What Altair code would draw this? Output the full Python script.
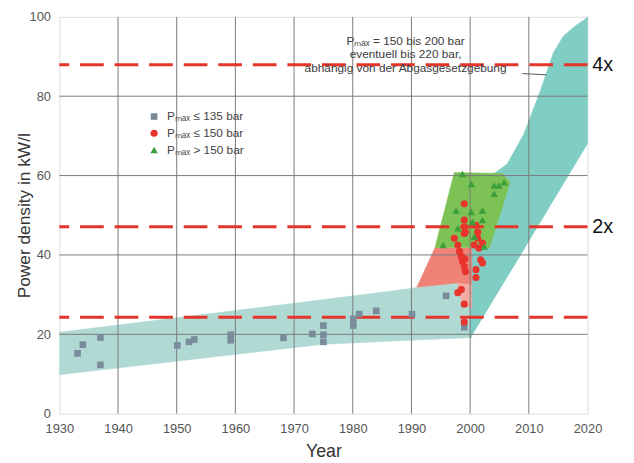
import altair as alt
import pandas as pd

FONT = "Liberation Sans"

# ---------------- data ----------------
X_TICKS = [1930, 1940, 1950, 1960, 1970, 1980, 1990, 2000, 2010, 2020]
Y_TICKS = [0, 20, 40, 60, 80, 100]
GRID_X = [1940, 1950, 1960, 1970, 1980, 1990, 2000, 2010]
GRID_Y = [20, 40, 60, 80]

# reference (dashed) lines and their labels
REF_LINES = [24.3, 47.1, 87.9]
REF_LABEL_Y = [87.9, 47.1]
REF_LABEL_TEXT = ["4x", "2x"]

# P_max <= 135 bar (squares)
sq_year = [1933.1, 1934.0, 1937.0, 1937.0, 1950.1, 1952.1, 1953.0, 1959.2, 1959.2,
           1968.2, 1973.1, 1975.0, 1975.0, 1975.0, 1980.1, 1980.1, 1981.1, 1984.0,
           1990.1, 1995.9, 1999.0]
sq_val = [15.2, 17.4, 19.2, 12.3, 17.2, 18.1, 18.7, 19.9, 18.5,
          19.1, 20.1, 22.2, 19.9, 18.1, 22.2, 23.9, 25.1, 25.9,
          25.1, 29.7, 21.8]

# P_max <= 150 bar (circles)
rc_year = [1999.0, 1999.0, 1999.0, 1999.2, 2001.0, 2001.3, 2001.3, 1997.3, 1997.9,
           1998.2, 1998.5, 1998.7, 1999.0, 2001.5, 2001.8, 2002.1, 2001.0, 2001.0,
           1998.5, 1997.9, 1999.0, 1999.0, 1999.1, 1999.2, 2000.7, 2002.1, 1999.0]
rc_val = [52.9, 48.8, 47.1, 45.8, 47.5, 45.8, 44.2, 44.2, 42.5,
          40.9, 39.6, 38.4, 37.1, 41.7, 38.8, 38.0, 36.3, 34.3,
          31.3, 30.5, 27.6, 23.1, 39.0, 35.8, 42.5, 43.0, 45.4]

# P_max > 150 bar (triangles)
gt_year = [1998.7, 2000.2, 2004.1, 2004.9, 2005.8, 2004.1, 1997.6, 2000.2, 2002.1,
           2002.1, 2000.4, 1997.9, 2000.7, 1995.4, 2002.4]
gt_val = [60.4, 57.9, 57.5, 57.5, 58.3, 55.4, 51.2, 50.8, 51.2,
          48.8, 48.3, 46.7, 44.6, 42.5, 42.1]

CATS = ["Pₘₐₓ ≤ 135 bar", "Pₘₐₓ ≤ 150 bar", "Pₘₐₓ > 150 bar"]
CAT_COLORS = ["#7a8b9b", "#e8342c", "#3c9f3c"]
CAT_SHAPES = ["square", "circle", "triangle-up"]
CAT_SIZES = [45, 58, 75]

# shaded regions (polygon vertices, year / value)
band_lo_x = [1930, 1960, 1987, 1991, 1997.8, 2000.3, 2000.3, 1975, 1930]
band_lo_y = [20.5, 26.0, 31.0, 31.8, 32.9, 27.2, 19.2, 17.5, 9.8]

steep_x = [2000.0, 2000.3, 2001.0, 2002.4, 2006.3, 2009.1, 2011.9, 2014.2, 2015.9,
           2018.0, 2019.5, 2020.0, 2020.0, 2014.2, 2007.4, 2000.0]
steep_y = [19.0, 42.0, 55.0, 58.7, 62.9, 70.3, 81.1, 91.0, 95.2,
           97.8, 99.3, 100.0, 68.0, 53.8, 37.1, 19.0]

red_x = [1990.9, 1994.0, 2000.3, 2000.3, 1997.8]
red_y = [31.8, 41.8, 41.8, 32.5, 32.9]

pink_x = [1997.8, 2000.3, 2000.3, 1998.6]
pink_y = [32.9, 32.5, 26.5, 27.8]

green_x = [1994.0, 1997.3, 2005.5, 2006.8, 2003.3]
green_y = [41.8, 60.8, 60.5, 58.3, 41.8]

NOTE_LINES = ["Pₘₐₓ = 150 bis 200 bar", "eventuell bis 220 bar,",
              "abhängig von der Abgasgesetzgebung"]
NOTE_X = [1989.0, 1989.0, 1989.0]
NOTE_Y = [94.0, 90.5, 87.0]
LEADER_X = [2008.9, 2013.0]
LEADER_Y = [85.7, 85.4]

# ---------------- chart ----------------
xs = alt.Scale(domain=[1930, 2020], nice=False, zero=False)
ys = alt.Scale(domain=[0, 100], nice=False, zero=False)
xaxis = alt.Axis(values=X_TICKS, format="d", grid=False, ticks=False, domain=False,
                 labelFlush=False, labelOverlap=False,
                 title="Year", labelFont=FONT, labelFontSize=13, labelColor="#555555",
                 labelPadding=9, titleFont=FONT, titleFontSize=18, titleColor="#333333",
                 titleFontWeight="normal", titleY=38, titleBaseline="middle")
yaxis = alt.Axis(values=Y_TICKS, grid=False, ticks=False, domain=False,
                 labelFlush=False, labelOverlap=False,
                 title="Power density in kW/l", labelFont=FONT, labelFontSize=13,
                 labelColor="#555555", labelPadding=9, titleFont=FONT, titleFontSize=17.5,
                 titleColor="#333333", titleFontWeight="normal", titleX=-35,
                 titleBaseline="middle")


def X(f):
    return alt.X(f, type="quantitative", scale=xs, axis=xaxis)


def Y(f):
    return alt.Y(f, type="quantitative", scale=ys, axis=yaxis)


def poly(xv, yv, color):
    df = pd.DataFrame({"x": xv, "y": yv, "i": list(range(len(xv)))})
    return alt.Chart(df).mark_line(fill=color, stroke=color, strokeWidth=0.5).encode(
        x=X("x"), y=Y("y"), order=alt.Order("i:Q"))


layers = [
    poly(band_lo_x, band_lo_y, "#b0d9d4"),
    poly(steep_x, steep_y, "#80cdc3"),
    poly(red_x, red_y, "#ef8378"),
    poly(pink_x, pink_y, "#f3aaa2"),
    poly(green_x, green_y, "#7cc254"),
]

gx = pd.DataFrame({"x": GRID_X})
gy = pd.DataFrame({"y": GRID_Y})
layers.append(alt.Chart(gx).mark_rule(color="#7a7a7a", strokeWidth=1).encode(x=X("x")))
layers.append(alt.Chart(gy).mark_rule(color="#7a7a7a", strokeWidth=1).encode(y=Y("y")))

ref = pd.DataFrame({"y": REF_LINES})
layers.append(alt.Chart(ref).mark_rule(color="#e5352a", strokeWidth=3,
                                       strokeDash=[24, 11]).encode(y=Y("y")))

pts = pd.DataFrame({
    "x": sq_year + rc_year + gt_year,
    "y": sq_val + rc_val + gt_val,
    "cat": [CATS[0]] * len(sq_year) + [CATS[1]] * len(rc_year) + [CATS[2]] * len(gt_year),
})
legend = alt.Legend(orient="none", legendX=90, legendY=95, title=None, labelFont=FONT,
                    labelFontSize=12, labelColor="#444444",
                    symbolStrokeWidth=0, rowPadding=5, labelOffset=7, padding=0)
layers.append(alt.Chart(pts).mark_point(filled=True, opacity=1).encode(
    x=X("x"), y=Y("y"),
    color=alt.Color("cat:N", scale=alt.Scale(domain=CATS, range=CAT_COLORS), legend=legend),
    shape=alt.Shape("cat:N", scale=alt.Scale(domain=CATS, range=CAT_SHAPES), legend=legend),
    size=alt.Size("cat:N", scale=alt.Scale(domain=CATS, range=CAT_SIZES), legend=legend),
))

notes = pd.DataFrame({"x": NOTE_X, "y": NOTE_Y, "t": NOTE_LINES})
layers.append(alt.Chart(notes).mark_text(font=FONT, fontSize=12, color="#3c3c3c",
                                         align="center", baseline="middle").encode(
    x=X("x"), y=Y("y"), text="t:N"))

leader = pd.DataFrame({"x": [LEADER_X[0]], "x2": [LEADER_X[1]],
                       "y": [LEADER_Y[0]], "y2": [LEADER_Y[1]]})
layers.append(alt.Chart(leader).mark_rule(color="#555555", strokeWidth=1).encode(
    x=X("x"), x2="x2:Q", y=Y("y"), y2="y2:Q"))

lab = pd.DataFrame({"x": [2020.8] * len(REF_LABEL_Y), "y": REF_LABEL_Y, "t": REF_LABEL_TEXT})
layers.append(alt.Chart(lab).mark_text(font=FONT, fontSize=20, color="#111111",
                                       align="left", baseline="middle").encode(
    x=X("x"), y=Y("y"), text="t:N"))

chart = alt.layer(*layers).properties(
    width=535, height=402,
    autosize=alt.AutoSizeParams(type="none"),
    padding={"left": 52, "top": 6, "right": 39, "bottom": 47},
).configure_view(stroke="#8c8c8c", strokeWidth=1).configure(background="white")

chart.save("out.html", embed_options={"renderer": "svg", "actions": False})
